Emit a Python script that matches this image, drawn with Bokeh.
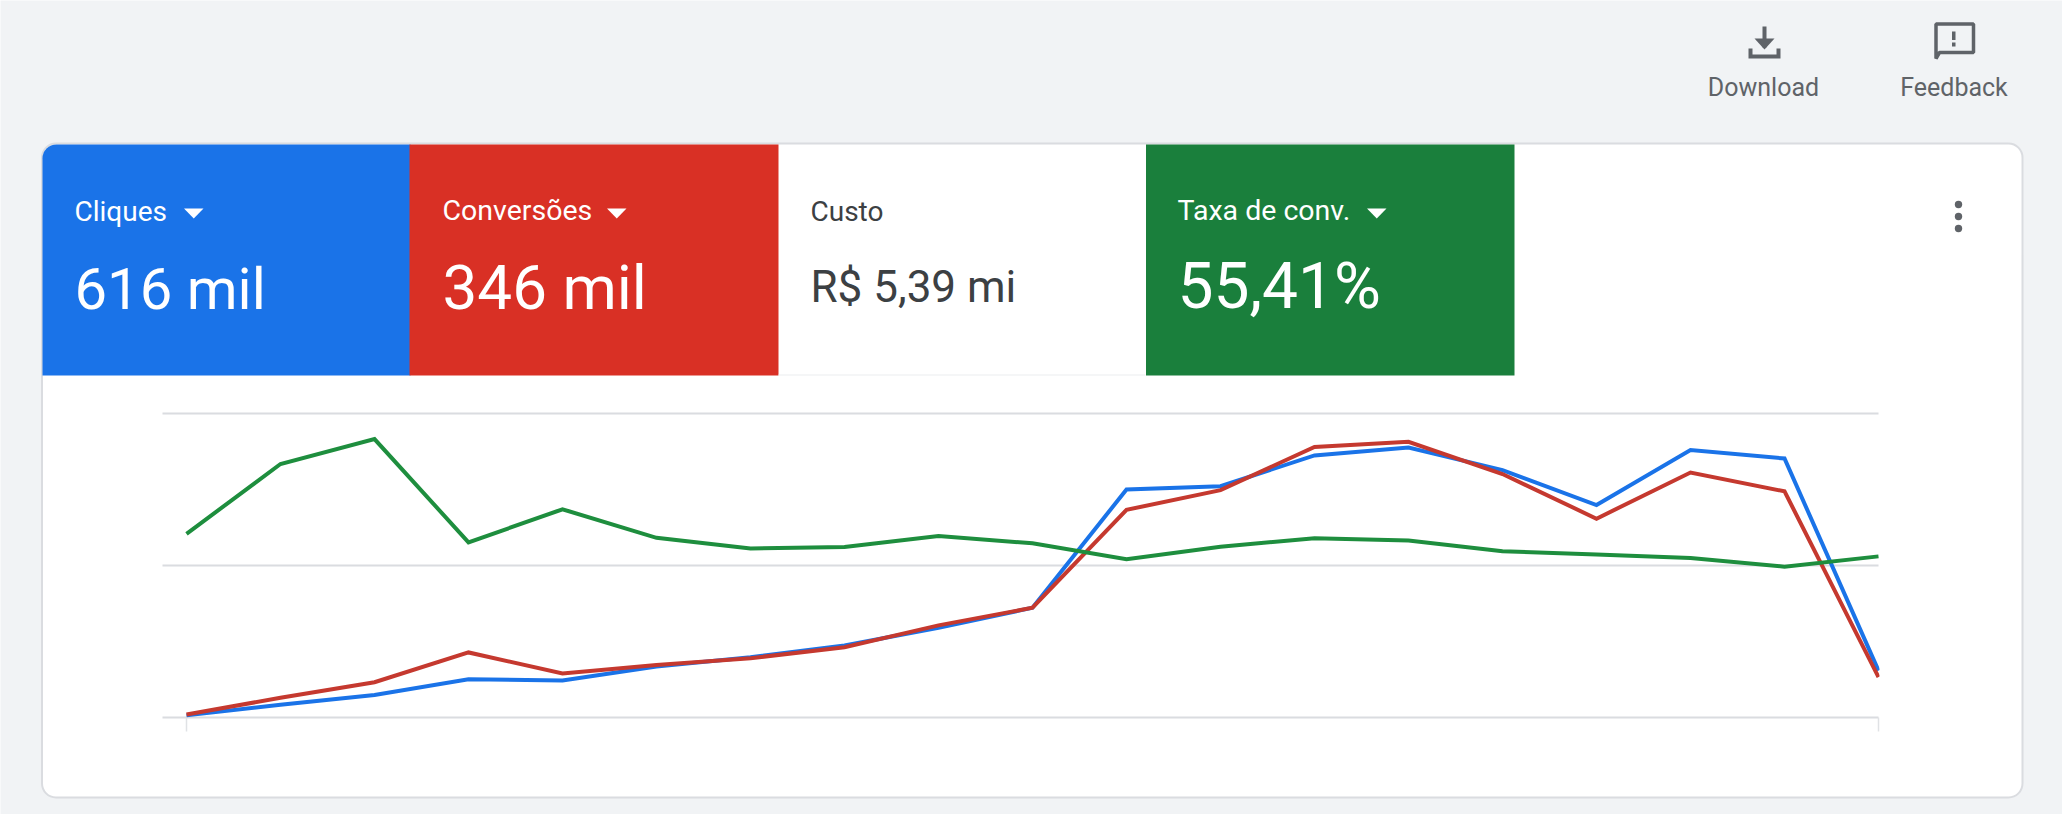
from bokeh.plotting import figure
from bokeh.core.properties import value
from bokeh.models import BoxAnnotation, Range1d
from bokeh.embed import file_html
from bokeh.resources import INLINE

# Chart values, percent of the (unlabelled) axis height
days = list(range(19))
cliques = [0.7, 4.2, 7.4, 12.6, 12.2, 16.8, 19.8, 23.7, 29.5, 36.1, 75.0, 76.1, 86.2, 88.8, 81.4, 69.9, 88.0, 85.2, 15.4]
conversoes = [1.0, 6.5, 11.6, 21.4, 14.5, 17.3, 19.5, 23.1, 30.3, 36.1, 68.3, 74.8, 89.0, 90.7, 80.1, 65.4, 80.6, 74.4, 13.3]
taxa = [60.4, 83.4, 91.6, 57.6, 68.5, 59.1, 55.6, 56.1, 59.7, 57.3, 52.1, 56.2, 59.0, 58.2, 54.7, 53.6, 52.5, 49.6, 53.0]
y_ticks = [0, 50, 100]
x_ticks = [0, 18]

BG = "#f1f3f5"
GRID = "#dadce0"
BLUE = "#1a73e8"
RED = "#d93025"
GREEN = "#1a7f3c"
LINE_RED = "#c5392f"
LINE_GREEN = "#1e8e3e"
INK = "#3c4043"
ICON = "#5f6368"
FONT = "Roboto"

W, H = 2062, 814
# plot area in page pixels
PX0, PX1, PY0, PY1 = 186, 1878, 717, 413
px_per_day = (PX1 - PX0) / (days[-1] - days[0])
px_per_pct = (PY0 - PY1) / (y_ticks[-1] - y_ticks[0])

p = figure(width=W, height=H, output_backend="svg", toolbar_location=None,
           x_range=Range1d(0, W), y_range=Range1d(H, 0),
           x_axis_type=None, y_axis_type=None,
           min_border_left=0, min_border_right=0, min_border_top=0, min_border_bottom=0)
p.grid.visible = False
p.background_fill_color = BG
p.border_fill_color = BG
p.outline_line_color = None
p.extra_x_ranges = {"days": Range1d(-PX0 / px_per_day, (W - PX0) / px_per_day)}
p.extra_y_ranges = {"pct": Range1d((PY0 - H) / px_per_pct, PY0 / px_per_pct)}


def box(x0, x1, y0, y1, color, line=None, radius=0, level="underlay", lw=2):
    p.add_layout(BoxAnnotation(left=x0, right=x1, top=y0, bottom=y1,
                               fill_color=color, fill_alpha=1, line_color=line, line_width=lw,
                               line_alpha=1 if line else 0, border_radius=radius, level=level,
                               editable=False))


def text(x, y, s, size, color, align="left"):
    p.text([x], [y - 0.37 * size], text=[s], text_font=value(FONT), text_font_size=f"{size}px",
           text_color=color, text_align=align, text_baseline="alphabetic")


# Card and tiles
box(41.5, 2022, 143, 797, "#ffffff", line=GRID, radius=14)
box(42, 410, 144, 375, BLUE, radius=(14, 0, 0, 0))
box(409, 778, 144, 375, RED)
box(778, 1145, 374, 375, "#eceef0")
box(1145.5, 1514, 144, 375, GREEN)

# Tile texts
text(74, 221, "Cliques", 28, "#ffffff")
text(74, 310, "616 mil", 58, "#ffffff")
text(442, 221, "Conversões", 28.5, "#ffffff")
text(442, 310, "346 mil", 62, "#ffffff")
text(810, 221, "Custo", 28, INK)
text(810, 303, "R$ 5,39 mi", 44, INK)
text(1177, 221, "Taxa de conv.", 28.5, "#ffffff")
text(1177, 310, "55,41%", 64, "#ffffff")

for x0 in (183.5, 606.5, 1366.5):
    p.patch([x0, x0 + 19.5, x0 + 9.75], [208, 208, 218], color="#ffffff", line_width=0)

# Top-right actions
text(1763, 96, "Download", 25, ICON, "center")
text(1953.5, 96, "Feedback", 25, ICON, "center")

# Download icon
p.patch([1762, 1766, 1766, 1762], [26, 26, 47, 47], color=ICON, line_width=0)
p.patch([1754, 1774, 1764], [38, 38, 49], color=ICON, line_width=0)
p.patch([1748, 1752, 1752, 1776, 1776, 1780, 1780, 1748], [48, 48, 54, 54, 48, 48, 58, 58], color=ICON, line_width=0)

# Feedback icon
p.patch([1935.5, 1973, 1973, 1939, 1935.5], [23.5, 23.5, 52, 52, 58], fill_alpha=0, line_color=ICON, line_width=3.5)
box(1951.5, 1955, 31, 39.5, ICON, level="annotation")
box(1951.5, 1955, 42, 46, ICON, level="annotation")

# Kebab menu
for yc in (204, 216, 228):
    box(1954.3, 1961.7, yc - 3.7, yc + 3.7, ICON, radius=4, level="annotation")

# Gridlines and end ticks of the chart
grid_left = days[0] - (PX0 - 162) / px_per_day
p.segment([grid_left] * len(y_ticks), y_ticks, [days[-1]] * len(y_ticks), y_ticks,
          x_range_name="days", y_range_name="pct", line_color=GRID, line_width=2)
tick_len = 14 / px_per_pct
p.segment(x_ticks, [y_ticks[0]] * len(x_ticks), x_ticks, [y_ticks[0] - tick_len] * len(x_ticks),
          x_range_name="days", y_range_name="pct", line_color="#e0e2e5", line_width=1.5)

# Lines
for series, colour in ((cliques, BLUE), (conversoes, LINE_RED), (taxa, LINE_GREEN)):
    p.line(days, series, x_range_name="days", y_range_name="pct",
           line_color=colour, line_width=4, line_join="miter")

# The plot area cuts the lines off at its right edge
box(PX1 + 1, PX1 + 8, PY1, PY0 - 2, "#ffffff", level="annotation")

open("out.html", "w").write(file_html(p, INLINE))
